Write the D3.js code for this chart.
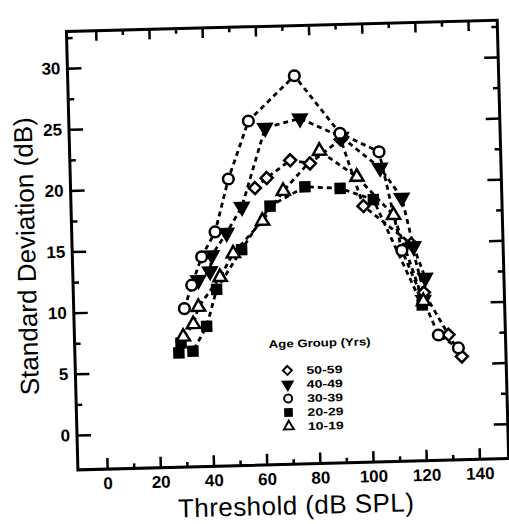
<!DOCTYPE html>
<html>
<head>
<meta charset="utf-8">
<script src="https://cdn.jsdelivr.net/npm/d3@7"></script>
<style>
  body { margin: 0; background: #fff; }
  svg { display: block; }
  text { font-family: "Liberation Sans", Arial, sans-serif; fill: #000; }
</style>
</head>
<body>
<div id="chart"></div>
<script>
// ----------------------------------------
// DATA
// ----------------------------------------
const ageGroups = ["50-59", "40-49", "30-39", "20-29", "10-19"];

// threshold (dB SPL) / standard deviation (dB) per age group
const thr5059 = [58.3, 62.8, 71.8, 79.2, 91.0, 98.9, 116.5, 120.8, 129.6, 134.4];
const sd5059  = [19.8, 20.6, 22.0, 21.7, 23.6, 18.1, 14.9, 10.9, 7.4, 5.6];

const thr4049 = [36.1, 40.6, 41.4, 47.2, 53.2, 62.7, 75.9, 91.2, 105.5, 113.4, 117.3, 121.4, 120.5];
const sd4049  = [12.4, 13.1, 14.4, 16.2, 18.3, 24.7, 25.4, 23.8, 21.2, 18.7, 14.7, 12.1, 10.3];

const thr3039 = [30.6, 33.6, 37.6, 42.9, 48.4, 56.5, 74.2, 90.8, 105.3, 112.9, 125.8, 133.2];
const sd3039  = [10.1, 12.0, 14.3, 16.3, 20.6, 25.3, 28.9, 24.1, 22.5, 14.4, 7.4, 6.3];

const thr2029 = [28.1, 29.0, 33.4, 38.8, 42.9, 52.7, 63.8, 77.1, 90.3, 102.7, 120.0];
const sd2029  = [6.5, 7.3, 6.6, 8.6, 11.6, 14.8, 18.3, 19.8, 19.6, 18.6, 9.9];

const thr1019 = [29.9, 33.8, 35.9, 44.3, 49.5, 60.8, 68.9, 82.9, 96.7, 110.1, 120.5];
const sd1019  = [7.8, 8.8, 10.2, 12.6, 14.5, 17.1, 19.5, 22.7, 20.5, 17.3, 10.2];

const xTicks = [0, 20, 40, 60, 80, 100, 120, 140];
const xMinorTicks = [10, 30, 50, 70, 90, 110, 130];
const yTicks = [0, 5, 10, 15, 20, 25, 30];
const yMinorTicks = [2.5, 7.5, 12.5, 17.5, 22.5, 27.5, 32.5];

// ----------------------------------------
// CHART
// ----------------------------------------
const W = 509, H = 524;

const svg = d3.select("#chart").append("svg")
    .attr("width", W)
    .attr("height", H);

// the source is a scan that sits a little crooked, so tilt the whole plot
const g = svg.append("g").attr("transform", "rotate(-1.5, 77, 435)");

const x = d3.scaleLinear().domain([-11, 151]).range([77, 77 + 162 * 2.66]);
const y = d3.scaleLinear().domain([-2.85, 33]).range([435 + 2.85 * 12.23, 435 - 33 * 12.23]);

const [x0, x1] = x.range();
const [yB, yT] = y.range();

// frame
g.append("rect")
    .attr("x", x0).attr("y", yT)
    .attr("width", x1 - x0).attr("height", yB - yT)
    .attr("fill", "none")
    .attr("stroke", "#000")
    .attr("stroke-width", 3);

function styleAxis(sel) {
    sel.select(".domain").remove();
    sel.selectAll(".tick line").attr("stroke", "#000").attr("stroke-width", 2.5);
    sel.selectAll(".tick text")
        .style("font-size", "17px")
        .style("font-weight", "bold");
}

// bottom axis, ticks point inward
g.append("g")
    .attr("transform", `translate(0,${yB})`)
    .call(d3.axisBottom(x).tickValues(xTicks).tickSizeInner(-11).tickSizeOuter(0).tickPadding(8))
    .call(styleAxis);
g.append("g")
    .attr("transform", `translate(0,${yB})`)
    .call(d3.axisBottom(x).tickValues(xMinorTicks).tickSizeInner(-5).tickSizeOuter(0).tickFormat(""))
    .call(styleAxis);

// top axis
g.append("g")
    .attr("transform", `translate(0,${yT})`)
    .call(d3.axisTop(x).tickValues(xTicks).tickSizeInner(-10).tickSizeOuter(0).tickFormat(""))
    .call(styleAxis);
g.append("g")
    .attr("transform", `translate(0,${yT})`)
    .call(d3.axisTop(x).tickValues(xMinorTicks).tickSizeInner(-5).tickSizeOuter(0).tickFormat(""))
    .call(styleAxis);

// left axis
g.append("g")
    .attr("transform", `translate(${x0},0)`)
    .call(d3.axisLeft(y).tickValues(yTicks).tickSizeInner(-14).tickSizeOuter(0).tickPadding(7))
    .call(styleAxis);
g.append("g")
    .attr("transform", `translate(${x0},0)`)
    .call(d3.axisLeft(y).tickValues(yMinorTicks).tickSizeInner(-6).tickSizeOuter(0).tickFormat(""))
    .call(styleAxis);

// right axis
g.append("g")
    .attr("transform", `translate(${x1},0)`)
    .call(d3.axisRight(y).tickValues(yTicks).tickSizeInner(-14).tickSizeOuter(0).tickFormat(""))
    .call(styleAxis);
g.append("g")
    .attr("transform", `translate(${x1},0)`)
    .call(d3.axisRight(y).tickValues(yMinorTicks).tickSizeInner(-6).tickSizeOuter(0).tickFormat(""))
    .call(styleAxis);

// axis titles
g.append("text")
    .attr("x", 294).attr("y", 520)
    .attr("text-anchor", "middle")
    .style("font-size", "26px")
    .attr("textLength", 236)
    .text("Threshold (dB SPL)");

g.append("text")
    .attr("transform", "translate(40,255) rotate(-90)")
    .attr("text-anchor", "middle")
    .style("font-size", "26px")
    .attr("textLength", 278)
    .text("Standard Deviation (dB)");

// ----------------------------------------
// SERIES
// ----------------------------------------
const diamond = "M0,-6L6,0L0,6L-6,0Z";
const series = [
    { name: ageGroups[0], t: thr5059, sd: sd5059, path: diamond, fill: "#fff" },
    { name: ageGroups[1], t: thr4049, sd: sd4049, path: d3.symbol(d3.symbolTriangle, 75)(), rot: 180, fill: "#000" },
    { name: ageGroups[2], t: thr3039, sd: sd3039, path: d3.symbol(d3.symbolCircle, 90)(), fill: "#fff" },
    { name: ageGroups[3], t: thr2029, sd: sd2029, path: d3.symbol(d3.symbolSquare, 80)(), fill: "#000" },
    { name: ageGroups[4], t: thr1019, sd: sd1019, path: d3.symbol(d3.symbolTriangle, 75)(), fill: "#fff" }
];
series.forEach(s => {
    s.points = s.t.map((t, i) => ({ t: t, sd: s.sd[i] }));
});

const line = d3.line()
    .x(d => x(d.t))
    .y(d => y(d.sd));

g.selectAll(".series-line")
    .data(series)
    .enter().append("path")
    .attr("class", "series-line")
    .attr("d", d => line(d.points))
    .attr("fill", "none")
    .attr("stroke", "#000")
    .attr("stroke-width", 2.8)
    .attr("stroke-dasharray", "5,4");

const markerGroups = g.selectAll(".series-marks")
    .data(series)
    .enter().append("g")
    .attr("class", "series-marks");

markerGroups.selectAll("path")
    .data(s => s.points.map(p => ({ p: p, s: s })))
    .enter().append("path")
    .attr("d", d => d.s.path)
    .attr("transform", d => `translate(${x(d.p.t)},${y(d.p.sd)}) rotate(${d.s.rot || 0})`)
    .attr("fill", d => d.s.fill)
    .attr("stroke", "#000")
    .attr("stroke-width", 2.5);

// ----------------------------------------
// LEGEND
// ----------------------------------------
const legend = g.append("g").attr("class", "legend");

legend.append("text")
    .attr("x", 322).attr("y", 353)
    .attr("text-anchor", "middle")
    .style("font-size", "11px")
    .style("font-weight", "bold")
    .attr("textLength", 102)
    .attr("lengthAdjust", "spacingAndGlyphs")
    .text("Age Group (Yrs)");

const rows = legend.selectAll(".legend-row")
    .data(series)
    .enter().append("g")
    .attr("class", "legend-row")
    .attr("transform", (d, i) => `translate(289,${376 + i * 14})`);

rows.append("path")
    .attr("d", d => d.path)
    .attr("transform", d => `scale(0.75) rotate(${d.rot || 0})`)
    .attr("fill", d => d.fill)
    .attr("stroke", "#000")
    .attr("stroke-width", 2.6);

rows.append("text")
    .attr("x", 19).attr("y", 4)
    .style("font-size", "11px")
    .style("font-weight", "bold")
    .attr("textLength", 36)
    .attr("lengthAdjust", "spacingAndGlyphs")
    .text(d => d.name);
</script>
</body>
</html>
